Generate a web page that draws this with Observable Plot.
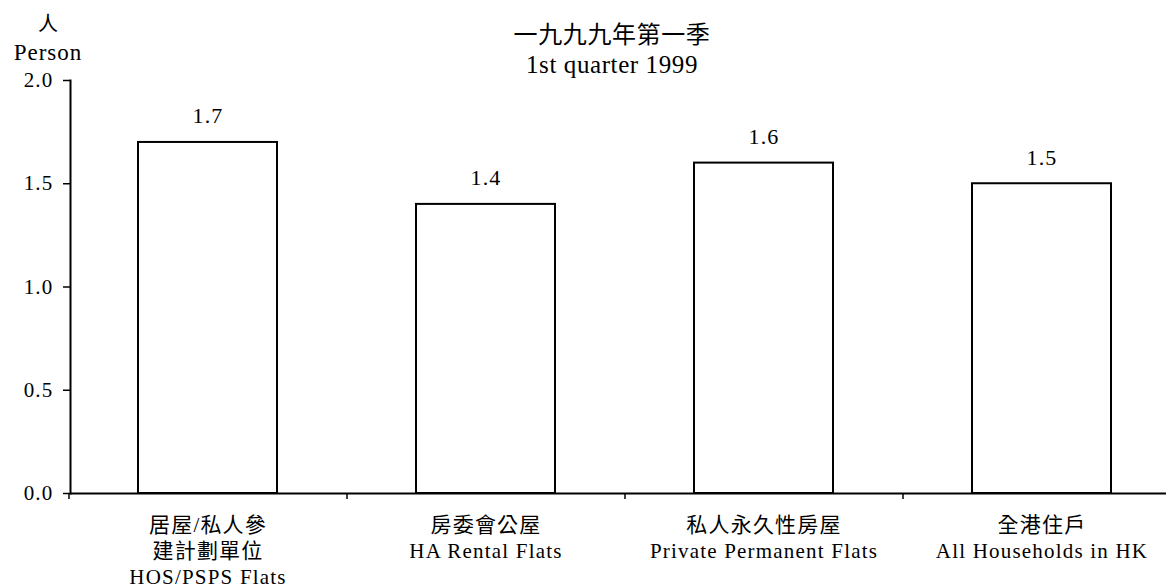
<!DOCTYPE html>
<html>
<head>
<meta charset="utf-8">
<script src="https://cdn.jsdelivr.net/npm/d3@7"></script>
<script src="https://cdn.jsdelivr.net/npm/@observablehq/plot@0.6"></script>
<style>
  html, body { margin: 0; padding: 0; background: #fff; }
  #wrap { position: relative; width: 1166px; height: 588px; overflow: hidden;
          font-family: "Liberation Serif", "Noto Sans CJK TC", serif; color: #000; }
  #wrap svg text { letter-spacing: 1.2px; }
  .hdr { position: absolute; white-space: nowrap; transform: translate(-50%, -50%); line-height: 1; }
</style>
</head>
<body>
<div id="wrap">
  <div class="hdr" style="left:48px; top:23px; font-size:20px; font-family:'Noto Sans CJK TC', sans-serif;">人</div>
  <div class="hdr" style="left:48px; top:52px; font-size:23px; letter-spacing:1px;">Person</div>
  <div class="hdr" style="left:612px; top:33px; font-size:24px; letter-spacing:0.6px; font-family:'Noto Sans CJK TC', sans-serif;">一九九九年第一季</div>
  <div class="hdr" style="left:612px; top:64px; font-size:25px; letter-spacing:0.6px;">1st quarter 1999</div>
</div>
<script>
// Housing categories (Chinese and English names) and their values (persons)
const catZh = ["居屋/私人參\n建計劃單位", "房委會公屋", "私人永久性房屋", "全港住戶"];
const catEn = ["HOS/PSPS Flats", "HA Rental Flats", "Private Permanent Flats", "All Households in HK"];
const values = [1.7, 1.4, 1.6, 1.5];
const yTicks = [0, 0.5, 1.0, 1.5, 2.0];

const data = catEn.map((en, i) => ({key: en, zh: catZh[i], en, value: values[i]}));
const labelOf = new Map(data.map(d => [d.key, d.zh + "\n" + d.en]));

const xRange = [68, 1180];
const step = (xRange[1] - xRange[0]) / data.length;

const chart = Plot.plot({
  width: 1166,
  height: 588,
  marginTop: 80,
  marginBottom: 95,
  marginLeft: 70,
  marginRight: 0,
  style: {fontFamily: "'Liberation Serif', 'Noto Sans CJK TC', serif", fontSize: "20px", color: "#000", background: "transparent"},
  x: {domain: catEn, range: xRange, paddingInner: 0.5, paddingOuter: 0.25, label: null},
  y: {domain: [0, 2], label: null},
  marks: [
    Plot.frame({anchor: "left", stroke: "#000", strokeWidth: 2}),
    Plot.axisY({ticks: yTicks, tickSize: 7, tickPadding: 10, tickFormat: d3.format(".1f"),
                fontSize: 21, stroke: "#000", strokeWidth: 1.5, label: null}),
    // small ticks marking the boundaries between categories
    Plot.axisX({tickSize: 6, tickFormat: () => "", dx: -step / 2, stroke: "#000", strokeWidth: 1.5, label: null}),
    Plot.barY(data, {x: "key", y: "value", fill: "white", stroke: "#000", strokeWidth: 2}),
    Plot.ruleY([0], {stroke: "#000", strokeWidth: 2}),
    Plot.text(data, {x: "key", y: "value", text: d => d.value.toFixed(1), dy: -26, fontSize: 22}),
    Plot.text(data, {x: "key", text: d => labelOf.get(d.key), frameAnchor: "bottom",
                     lineAnchor: "top", dy: 20, fontSize: 21, lineHeight: 1.24})
  ]
});

const wrap = document.getElementById("wrap");
chart.style.position = "absolute";
chart.style.left = "0";
chart.style.top = "0";
wrap.insertBefore(chart, wrap.firstChild);
</script>
</body>
</html>
